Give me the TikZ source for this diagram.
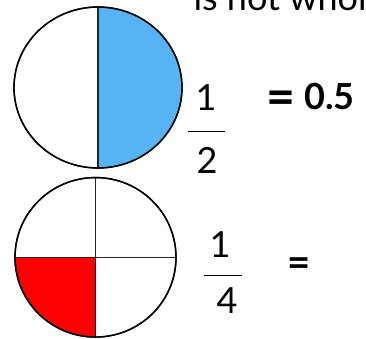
\documentclass[tikz,border=0pt]{standalone}
\usepackage{fontspec}
\setmainfont{Lato}
\usetikzlibrary{shapes.geometric}

\definecolor{halfblue}{RGB}{86,180,245}
\definecolor{quarterred}{RGB}{255,0,0}

\begin{document}
\begin{tikzpicture}[
    x=1pt, y=-1pt,
    pie/.style={ellipse, draw=black, line width=1.4pt, inner sep=0pt, fill=white},
    cut/.style={draw=black!85, line width=1.3pt},
    bar/.style={draw=black, line width=1pt},
    num/.style={anchor=base, font=\fontsize{36}{40}\selectfont},
    eq/.style={anchor=center, inner sep=0pt, font=\fontsize{50}{54}\selectfont\bfseries}
]
    \clip (0,0) rectangle (366,338);

    \node[anchor=base west, font=\fontsize{36}{40}\selectfont] (heading) at (190,10) {is not whole};

    % one half
    \node[pie, minimum width=168pt, minimum height=161pt,
        path picture={\fill[halfblue] (path picture bounding box.north) rectangle (path picture bounding box.south east);}]
        (half) at (98,87.5) {};
    \draw[cut] (half.north) -- (half.south);
    \node[pie, fill=none, minimum width=168pt, minimum height=161pt] at (half.center) {};

    \node[num] (oneA) at (206,110) {1};
    \node[num] (two) at (207,173) {2};
    \coordinate (barAl) at (188,131);
    \coordinate (barAr) at (225,131);
    \draw[bar] (barAl) -- (barAr);
    \node[eq] (eqA) at (280.5,103) {=};
    \node[anchor=base west, font=\fontsize{36}{40}\selectfont\bfseries] (dec) at (301,109) {0.5};

    % one quarter
    \node[pie, minimum width=161pt, minimum height=159.5pt,
        path picture={\fill[quarterred] (path picture bounding box.west) rectangle (path picture bounding box.south);}]
        (quarter) at (95.5,257.3) {};
    \draw[cut] (quarter.north) -- (quarter.south);
    \draw[cut] (quarter.west) -- (quarter.east);
    \node[pie, fill=none, minimum width=161pt, minimum height=159.5pt] at (quarter.center) {};

    \node[num] (oneB) at (220,257) {1};
    \node[num] (four) at (227,313) {4};
    \coordinate (barBl) at (204,275);
    \coordinate (barBr) at (242,275);
    \draw[bar] (barBl) -- (barBr);
    \node[eq, font=\fontsize{40}{44}\selectfont\bfseries] (eqB) at (299,267.5) {=};
\end{tikzpicture}
\end{document}
